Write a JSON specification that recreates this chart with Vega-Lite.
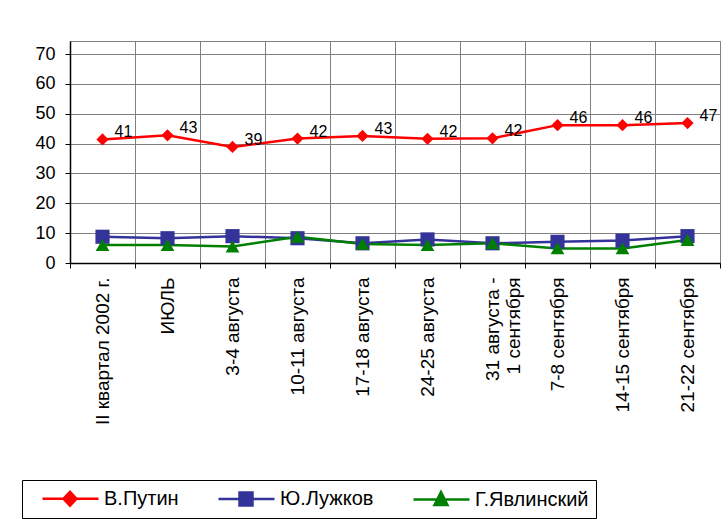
{
  "$schema": "https://vega.github.io/schema/vega-lite/v6.json",
  "autosize": "none",
  "width": 650,
  "height": 222,
  "padding": {"left": 70, "top": 41, "right": 8, "bottom": 256},
  "background": "white",
  "config": {
    "font": "Liberation Sans",
    "view": {"stroke": "#808080", "strokeWidth": 1}
  },
  "data": {
    "values": [
      {"period": "II квартал 2002 г.", "series": "В.Путин", "value": 41.4},
      {"period": "ИЮЛЬ", "series": "В.Путин", "value": 42.8},
      {"period": "3-4 августа", "series": "В.Путин", "value": 38.9},
      {"period": "10-11 августа", "series": "В.Путин", "value": 41.7},
      {"period": "17-18 августа", "series": "В.Путин", "value": 42.6},
      {"period": "24-25 августа", "series": "В.Путин", "value": 41.6},
      {"period": "31 августа - 1 сентября", "series": "В.Путин", "value": 41.8},
      {"period": "7-8 сентября", "series": "В.Путин", "value": 46.2},
      {"period": "14-15 сентября", "series": "В.Путин", "value": 46.2},
      {"period": "21-22 сентября", "series": "В.Путин", "value": 46.9},
      {"period": "II квартал 2002 г.", "series": "Ю.Лужков", "value": 8.8},
      {"period": "ИЮЛЬ", "series": "Ю.Лужков", "value": 8.3},
      {"period": "3-4 августа", "series": "Ю.Лужков", "value": 9.0},
      {"period": "10-11 августа", "series": "Ю.Лужков", "value": 8.3},
      {"period": "17-18 августа", "series": "Ю.Лужков", "value": 6.6},
      {"period": "24-25 августа", "series": "Ю.Лужков", "value": 7.9},
      {"period": "31 августа - 1 сентября", "series": "Ю.Лужков", "value": 6.6},
      {"period": "7-8 сентября", "series": "Ю.Лужков", "value": 7.1},
      {"period": "14-15 сентября", "series": "Ю.Лужков", "value": 7.5},
      {"period": "21-22 сентября", "series": "Ю.Лужков", "value": 9.0},
      {"period": "II квартал 2002 г.", "series": "Г.Явлинский", "value": 6.0},
      {"period": "ИЮЛЬ", "series": "Г.Явлинский", "value": 6.0},
      {"period": "3-4 августа", "series": "Г.Явлинский", "value": 5.5},
      {"period": "10-11 августа", "series": "Г.Явлинский", "value": 8.8},
      {"period": "17-18 августа", "series": "Г.Явлинский", "value": 6.4},
      {"period": "24-25 августа", "series": "Г.Явлинский", "value": 6.0},
      {"period": "31 августа - 1 сентября", "series": "Г.Явлинский", "value": 6.6},
      {"period": "7-8 сентября", "series": "Г.Явлинский", "value": 4.9},
      {"period": "14-15 сентября", "series": "Г.Явлинский", "value": 4.9},
      {"period": "21-22 сентября", "series": "Г.Явлинский", "value": 7.7}
    ]
  },
  "encoding": {
    "x": {
      "field": "period",
      "type": "nominal",
      "sort": ["II квартал 2002 г.", "ИЮЛЬ", "3-4 августа", "10-11 августа", "17-18 августа", "24-25 августа", "31 августа - 1 сентября", "7-8 сентября", "14-15 сентября", "21-22 сентября"],
      "scale": {"type": "band", "paddingInner": 0, "paddingOuter": 0},
      "axis": {
        "title": null,
        "labelAngle": 270,
        "labelFontSize": 19,
        "labelColor": "black",
        "labelLimit": 0,
        "labelPadding": 9,
        "tickBand": "extent",
        "tickSize": 5,
        "tickColor": "black",
        "domainColor": "black",
        "domainWidth": 1.5,
        "grid": true,
        "gridColor": "#808080",
        "gridOpacity": 1,
        "labelExpr": "datum.value === '31 августа - 1 сентября' ? ['31 августа -', '1 сентября'] : datum.label"
      }
    },
    "y": {
      "field": "value",
      "type": "quantitative",
      "scale": {"domain": [0, 74.4], "nice": false},
      "axis": {
        "title": null,
        "values": [0, 10, 20, 30, 40, 50, 60, 70],
        "labelFontSize": 18,
        "labelColor": "black",
        "labelPadding": 10,
        "tickSize": 5,
        "tickColor": "black",
        "domainColor": "black",
        "domainWidth": 1.5,
        "grid": true,
        "gridColor": "#808080",
        "gridOpacity": 1
      }
    }
  },
  "layer": [
    {
      "mark": {"type": "line", "strokeWidth": 2.5},
      "encoding": {
        "color": {
          "field": "series",
          "type": "nominal",
          "scale": {"domain": ["В.Путин", "Ю.Лужков", "Г.Явлинский"], "range": ["#FF0000", "#333399", "#008000"]},
          "legend": {
            "title": null,
            "orient": "none",
            "legendX": -48,
            "legendY": 439,
            "direction": "horizontal",
            "columns": 3,
            "columnPadding": 26,
            "padding": 7,
            "strokeColor": "black",
            "fillColor": "white",
            "labelFontSize": 20,
            "labelColor": "black",
            "labelOffset": 52,
            "labelLimit": 0,
            "symbolSize": 400,
            "symbolStrokeWidth": 2.5,
            "encode": {
              "symbols": {
                "update": {
                  "shape": {"signal": "datum.value === 'В.Путин' ? 'M0.2,0L5.8,0M2.95,-0.7L3.6,0L2.95,0.7L2.3,0Z' : datum.value === 'Ю.Лужков' ? 'M0.2,0L5.8,0M2.3,-0.65L3.6,-0.65L3.6,0.65L2.3,0.65Z' : 'M0.2,0L5.8,0M2.95,-0.75L3.6,0.55L2.3,0.55Z'"},
                  "fill": {"signal": "scale('color', datum.value)"},
                  "strokeWidth": {"value": 2.5},
                  "size": {"value": 400},
                  "opacity": {"value": 1},
                  "fillOpacity": {"value": 1}
                }
              }
            }
          }
        }
      }
    },
    {
      "transform": [{"filter": "datum.series === 'В.Путин'"}],
      "mark": {"type": "point", "filled": true, "opacity": 1, "shape": "diamond", "size": 150, "color": "#FF0000"}
    },
    {
      "transform": [{"filter": "datum.series === 'Ю.Лужков'"}],
      "mark": {"type": "point", "filled": true, "opacity": 1, "shape": "square", "size": 200, "color": "#333399"}
    },
    {
      "transform": [{"filter": "datum.series === 'Г.Явлинский'"}],
      "mark": {"type": "point", "filled": true, "opacity": 1, "shape": "triangle-up", "size": 190, "color": "#008000"}
    },
    {
      "transform": [{"filter": "datum.series === 'В.Путин'"}],
      "mark": {"type": "text", "align": "left", "dx": 12, "dy": -7, "fontSize": 16, "color": "black"},
      "encoding": {
        "text": {"field": "value", "format": ".0f"}
      }
    }
  ]
}
